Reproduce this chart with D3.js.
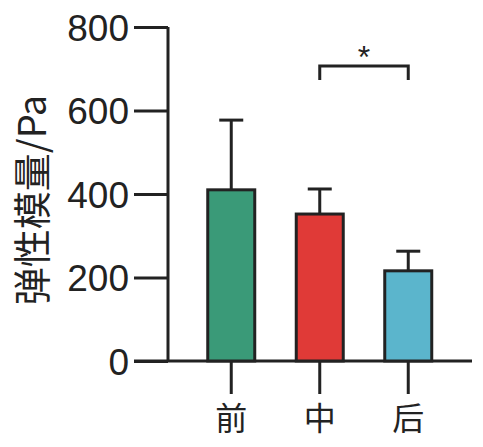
<!DOCTYPE html>
<html><head><meta charset="utf-8">
<script src="https://cdn.jsdelivr.net/npm/d3@7"></script>
<style>body{margin:0;background:#fff}</style></head>
<body><div id="chart"></div>
<script>
// datos
var categories = ["前", "中", "后"];
var means = [410, 352, 216];
var errors = [167, 60, 47];
var colors = ["#3a9a78", "#e03a37", "#5bb5cc"];
var yTicks = [0, 200, 400, 600, 800];

var svg = d3.select("#chart").append("svg").attr("width", 483).attr("height", 447);
var font = "Liberation Sans, Arial, Noto Sans CJK SC, sans-serif";

var y = d3.scaleLinear().domain([0, 800]).range([361, 27]);
var x = d3.scaleBand().domain(categories).range([187, 452.5]).paddingInner(0.469).paddingOuter(0.2345);

// eje y
var yAxis = d3.axisLeft(y).tickValues(yTicks).tickSize(34).tickPadding(5);
var gy = svg.append("g").attr("transform", "translate(168,0)").call(yAxis);
gy.select(".domain").attr("d", "M0," + y(800) + "V" + y(0));
gy.selectAll("line,path").attr("stroke", "#222").attr("stroke-width", 3);
gy.selectAll("text").style("font-family", font).style("font-size", "37px").attr("fill", "#222").attr("dy", "0.36em");

// eje x
svg.append("line").attr("x1", 134).attr("x2", 472).attr("y1", y(0)).attr("y2", y(0))
    .attr("stroke", "#222").attr("stroke-width", 3);

// barras
svg.selectAll(".bar").data(categories).enter().append("rect")
    .attr("x", function (d) { return x(d); })
    .attr("width", x.bandwidth())
    .attr("y", function (d, i) { return y(means[i]); })
    .attr("height", function (d, i) { return y(0) - y(means[i]); })
    .attr("fill", function (d, i) { return colors[i]; })
    .attr("stroke", "#222").attr("stroke-width", 3);

// barras de error
categories.forEach(function (c, i) {
    var cx = x(c) + x.bandwidth() / 2;
    svg.append("line").attr("x1", cx).attr("x2", cx).attr("y1", y(means[i])).attr("y2", y(means[i] + errors[i]))
        .attr("stroke", "#222").attr("stroke-width", 3);
    svg.append("line").attr("x1", cx - 12).attr("x2", cx + 12).attr("y1", y(means[i] + errors[i])).attr("y2", y(means[i] + errors[i]))
        .attr("stroke", "#222").attr("stroke-width", 3);
    // ticks bajo el eje
    svg.append("line").attr("x1", cx).attr("x2", cx).attr("y1", y(0)).attr("y2", y(0) + 33)
        .attr("stroke", "#222").attr("stroke-width", 3);
    svg.append("text").attr("x", cx).attr("y", 430).attr("text-anchor", "middle")
        .style("font-family", "Noto Sans CJK SC").style("font-size", "32px").attr("fill", "#222").text(c);
});

// significancia
var x1 = x("中") + x.bandwidth() / 2, x2 = x("后") + x.bandwidth() / 2;
svg.append("path").attr("d", "M" + x1 + ",80V66H" + x2 + "V80").attr("fill", "none")
    .attr("stroke", "#222").attr("stroke-width", 3);
svg.append("text").attr("x", (x1 + x2) / 2).attr("y", 68).attr("text-anchor", "middle")
    .style("font-family", font).style("font-size", "32px").attr("fill", "#222").text("*");

// titulo eje y
svg.append("text").attr("transform", "translate(46,200) rotate(-90)").attr("text-anchor", "middle")
    .style("font-family", "Noto Sans CJK SC").style("font-size", "38px").attr("fill", "#222").text("弹性模量/Pa");
</script></body></html>
